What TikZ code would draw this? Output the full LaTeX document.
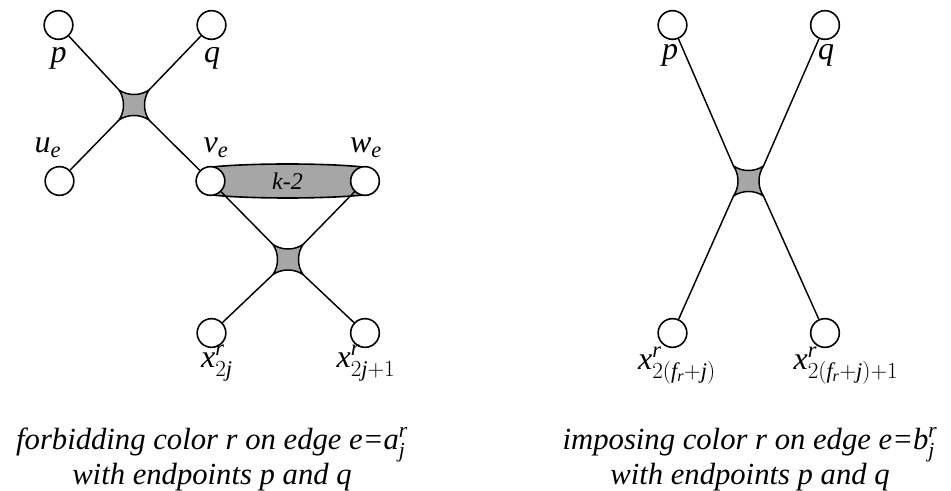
\documentclass[tikz,border=0pt]{standalone}
\usepackage{fontspec}
\setmainfont{Liberation Serif}
\DeclareSymbolFont{letters}{\encodingdefault}{\rmdefault}{m}{it}
\usetikzlibrary{positioning}

\definecolor{shade}{gray}{0.65}

\begin{document}
\begin{tikzpicture}[x=0.75pt,y=-0.75pt,
    vtx/.style={circle, draw, line width=1.2pt, fill=white, minimum size=21.5pt, inner sep=0pt},
    lbl/.style={anchor=base, inner sep=0pt, font=\fontsize{24}{24}\selectfont},
    caption/.style={anchor=base, inner sep=0pt, align=center, font=\fontsize{23}{22.5}\selectfont\itshape},
    edge/.style={line width=1.1pt},
    xstar/.pic={
        \filldraw[fill=shade, line width=1.1pt, line join=round]
            (-15,-15) .. controls (-6,-9) and (6,-9) .. (15,-15)
            .. controls (9,-6) and (9,6) .. (15,15)
            .. controls (6,9) and (-6,9) .. (-15,15)
            .. controls (-9,6) and (-9,-6) .. (-15,-15) -- cycle;
        \coordinate (-nw) at (-15,-15);
        \coordinate (-ne) at (15,-15);
        \coordinate (-sw) at (-15,15);
        \coordinate (-se) at (15,15);
    }]
    \useasboundingbox (0,0) rectangle (951,491);

    % Left gadget
    \filldraw[fill=shade, line width=1.2pt]
        (212,167) .. controls (250,163) and (325,163) .. (363,167) -- (363,195)
        .. controls (325,199) and (250,199) .. (212,195) -- cycle;
    \node[font=\fontsize{18}{18}\selectfont\itshape] (k) at (287.5,181) {k-2};

    \node[vtx] (p1) at (58.5,25) {};
    \node[vtx] (q1) at (211.5,25) {};
    \node[vtx] (u) at (59.5,181) {};
    \node[vtx] (v) at (210.5,181) {};
    \node[vtx] (w) at (365,181) {};
    \node[vtx] (xa) at (211.5,333) {};
    \node[vtx] (xb) at (365,333) {};
    \pic (s1) at (134,105) {xstar};
    \pic (s2) at (288,259.5) {xstar};

    \draw[edge] (p1) -- (s1-nw);
    \draw[edge] (q1) -- (s1-ne);
    \draw[edge] (u) -- (s1-sw);
    \draw[edge] (v) -- (s1-se);
    \draw[edge] (v) -- (s2-nw);
    \draw[edge] (w) -- (s2-ne);
    \draw[edge] (xa) -- (s2-sw);
    \draw[edge] (xb) -- (s2-se);

    \node[lbl] (lp1) at (58.5,63) {$p$};
    \node[lbl] (lq1) at (212,63) {$q$};
    \node[lbl] (lu) at (48,153) {$u_e$};
    \node[lbl] (lv) at (216,153) {$v_e$};
    \node[lbl] (lw) at (366,153) {$w_e$};
    \node[lbl] (lxa) at (217,368) {$x^r_{2j}$};
    \node[lbl] (lxb) at (366,368) {$x^r_{2j+1}$};

    \node[caption] (capL) at (212,485) {forbidding color r on edge e=$a^r_j$\\with endpoints p and q};

    % Right gadget
    \node[vtx] (p2) at (672.5,25) {};
    \node[vtx] (q2) at (825,25) {};
    \node[vtx] (ya) at (672.5,333) {};
    \node[vtx] (yb) at (825,333) {};
    \pic (s3) at (748.5,181) {xstar};

    \draw[edge] (p2) -- (s3-nw);
    \draw[edge] (q2) -- (s3-ne);
    \draw[edge] (ya) -- (s3-sw);
    \draw[edge] (yb) -- (s3-se);

    \node[lbl] (lp2) at (670,60) {$p$};
    \node[lbl] (lq2) at (826,60) {$q$};
    \node[lbl] (lya) at (677,370) {$x^r_{2(f_r+j)}$};
    \node[lbl] (lyb) at (846,370) {$x^r_{2(f_r+j)+1}$};

    \node[caption] (capR) at (750,485) {imposing color r on edge e=$b^r_j$\\with endpoints p and q};
\end{tikzpicture}
\end{document}
